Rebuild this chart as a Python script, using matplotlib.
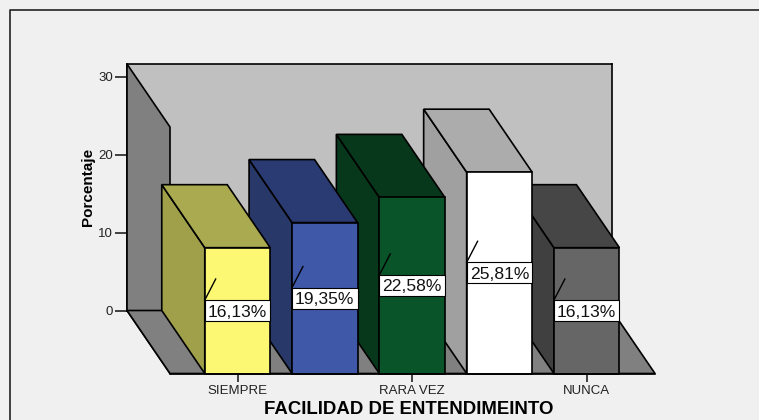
import matplotlib
matplotlib.use("Agg")
import matplotlib.pyplot as plt
from matplotlib.lines import Line2D
from matplotlib.patches import Polygon, Rectangle

plt.rcParams['font.family'] = ['Liberation Sans', 'DejaVu Sans']

categories = ["SIEMPRE", "", "RARA VEZ", "", "NUNCA"]
values = [16.13, 19.35, 22.58, 25.81, 16.13]
labels = ["16,13%", "19,35%", "22,58%", "25,81%", "16,13%"]
front_colors = ["#fcf874", "#3f58a8", "#0a5429", "#ffffff", "#666666"]
side_colors = ["#a0a04a", "#283868", "#08381c", "#a0a0a0", "#404040"]
top_colors = ["#aaaa50", "#2a3a72", "#08381c", "#acacac", "#464646"]
yticks = [0, 10, 20, 30]

W, H = 759, 420
# pixel layout of the fake 3d box
front_left, front_right = 170, 655
floor_y = 373.5
back_left, back_right = 127, 611.5
back_zero, back_top = 310.5, 64
px_per_unit = 7.8
px_per_cat = 87.3
first_cat = 237.5
bar_w = 0.75

fig = plt.figure(figsize=(W / 100, H / 100), dpi=100, facecolor="#f0f0f0")
# frame is only left and top in the source
fig.add_artist(Line2D([10 / W, 10 / W, 1], [0, 1 - 10 / H, 1 - 10 / H], transform=fig.transFigure,
                      color="#222222", linewidth=1.2))

# back wall, carries the y axis
back = fig.add_axes([back_left / W, 1 - back_zero / H, (back_right - back_left) / W, (back_zero - back_top) / H])
back.set_facecolor("#c0c0c0")
back.set_xticks([])
back.set_ylim(0, (back_zero - back_top) / px_per_unit)
back.set_yticks(yticks)
back.tick_params(axis='y', length=9, width=1.2, labelsize=9.5, pad=1, colors="#222222")
back.set_ylabel("Porcentaje", fontsize=11, fontweight='bold', labelpad=2)
for s in back.spines.values():
    s.set_linewidth(1.2)

# front plane, carries the x axis
ax = fig.add_axes([front_left / W, 1 - floor_y / H, (front_right - front_left) / W, (floor_y - back_top) / H])
ax.patch.set_alpha(0)
for s in ax.spines.values():
    s.set_visible(False)
ax.spines['bottom'].set_visible(True)
ax.spines['bottom'].set_linewidth(1.2)
ax.set_xlim((front_left - first_cat) / px_per_cat, (front_right - first_cat) / px_per_cat)
ax.set_ylim(0, (floor_y - back_top) / px_per_unit)
ax.set_yticks([])
ax.set_xticks([0, 2, 4])
ax.set_xticklabels([categories[0], categories[2], categories[4]], fontsize=9.5)
ax.tick_params(axis='x', length=6, width=1.2, pad=2, colors="#222222")
ax.set_xlabel("FACILIDAD DE ENTENDIMEINTO", fontsize=13.4, fontweight='bold', labelpad=3, x=0.493)

dx = (front_left - back_left) / px_per_cat
dy = (floor_y - back_zero) / px_per_unit
x0 = (front_left - first_cat) / px_per_cat
x1 = (front_right - first_cat) / px_per_cat
edge = dict(edgecolor="black", linewidth=1.2, clip_on=False)

# left wall and floor
top_v = (back_zero - back_top) / px_per_unit
ax.add_patch(Polygon([(x0 - dx, dy), (x0 - dx, dy + top_v), (x0, top_v), (x0, 0)], facecolor="#808080", **edge))
ax.add_patch(Polygon([(x0 - dx, dy), (x1 - dx, dy), (x1, 0), (x0, 0)], facecolor="#808080", **edge))

# bars go right to left, the left ones overlap the next one
for i in range(len(values) - 1, -1, -1):
    v = values[i]
    l, r = i - bar_w / 2, i + bar_w / 2
    ax.add_patch(Polygon([(l - dx, dy), (l - dx, v + dy), (l, v), (l, 0)], facecolor=side_colors[i], **edge))
    ax.add_patch(Polygon([(l - dx, v + dy), (r - dx, v + dy), (r, v), (l, v)], facecolor=top_colors[i], **edge))
    ax.add_patch(Rectangle((l, 0), bar_w, v, facecolor=front_colors[i], **edge))

# label box fills the bar width
box_h = 21 / px_per_unit
for i, v in enumerate(values):
    l = i - bar_w / 2
    ax.plot([l, l + 0.125], [v / 2 + box_h / 2, v / 2 + box_h / 2 + 2.7], color="black", linewidth=1, clip_on=False)
    ax.add_patch(Rectangle((l, v / 2 - box_h / 2), bar_w, box_h, facecolor="white", edgecolor="black",
                           linewidth=0.8, zorder=4, clip_on=False))
    ax.text(i, v / 2, labels[i], ha='center', va='center_baseline', fontsize=12.6, color="#111111", zorder=5)

fig.savefig("out.png", dpi=100, facecolor=fig.get_facecolor())
